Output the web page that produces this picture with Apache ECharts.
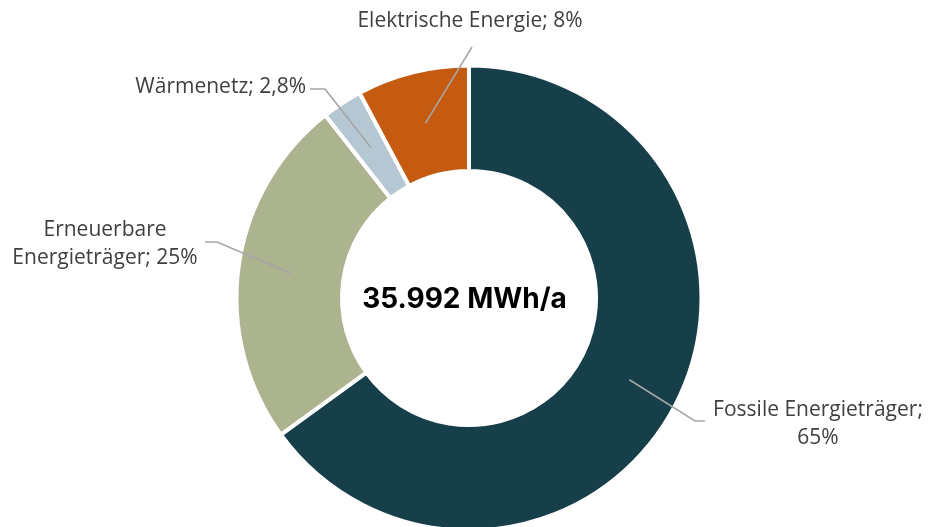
<!DOCTYPE html>
<html>
<head>
<meta charset="utf-8">
<script src="https://cdn.jsdelivr.net/npm/echarts@6/dist/echarts.min.js"></script>
<style>
  html, body { margin: 0; padding: 0; background: #ffffff; }
  #chart { width: 928px; height: 527px; }
</style>
</head>
<body>
<div id="chart"></div>
<script>
// ---- data ----
const categories = ['Fossile Energieträger', 'Erneuerbare Energieträger', 'Wärmenetz', 'Elektrische Energie'];
const shares = [65.0, 24.4, 2.8, 7.8];
const labelTexts = ['Fossile Energieträger;\n65%', 'Erneuerbare\nEnergieträger; 25%', 'Wärmenetz; 2,8%', 'Elektrische Energie; 8%'];
const totalText = '35.992 MWh/a';
const colors = ['#173F4A', '#ABB38F', '#B4C7D3', '#C55A11'];

// ---- layout ----
const center = [469, 298];
const outerR = 232.5, innerR = 127;
const anchorR = 180;
const labelSpots = [
  { x: 818, y: 424, align: 'center', elbow: [695, 421], end: [705, 421] },
  { x: 105, y: 244, align: 'center', elbow: [217, 242], end: [205, 242] },
  { x: 306, y: 87,  align: 'right',  elbow: [325, 89],  end: [310, 89] },
  { x: 470, y: 21,  align: 'center', elbow: [472, 47],  end: [472, 47] }
];

const chart = echarts.init(document.getElementById('chart'), null, { renderer: 'canvas' });

const option = {
  animation: false,
  backgroundColor: '#ffffff',
  graphic: [{
    type: 'text',
    x: 464.5,
    y: 300,
    style: {
      text: totalText,
      fill: '#000000',
      font: 'bold 28px Inter',
      align: 'center',
      verticalAlign: 'middle'
    },
    z: 100
  }],
  series: [{
    // the ring itself
    type: 'pie',
    z: 2,
    center: center,
    radius: [innerR, outerR],
    startAngle: 90,
    clockwise: true,
    emphasis: { disabled: true },
    itemStyle: { borderColor: '#ffffff', borderWidth: 4 },
    label: { show: false },
    labelLine: { show: false },
    data: categories.map(function (c, i) {
      return { name: c, value: shares[i], itemStyle: { color: colors[i] } };
    })
  }, {
    // same shares, invisible, only carries the labels and leader lines above the ring
    type: 'pie',
    z: 5,
    silent: true,
    center: center,
    radius: [0, anchorR],
    startAngle: 90,
    clockwise: true,
    avoidLabelOverlap: false,
    emphasis: { disabled: true },
    itemStyle: { color: 'rgba(0,0,0,0)', borderWidth: 0 },
    label: {
      show: true,
      position: 'outside',
      width: 400,
      overflow: 'none',
      formatter: function (p) { return labelTexts[p.dataIndex]; },
      fontFamily: 'Open Sans',
      fontSize: 21,
      lineHeight: 28,
      color: '#404040'
    },
    labelLine: {
      show: true,
      lineStyle: { color: '#A6A6A6', width: 1.6 }
    },
    labelLayout: function (p) {
      const s = labelSpots[p.dataIndex];
      const res = { x: s.x, y: s.y, align: s.align, verticalAlign: 'middle' };
      const pts = p.labelLinePoints;
      if (pts && pts[0]) {
        res.labelLinePoints = [pts[0], s.elbow, s.end];
      }
      return res;
    },
    data: categories.map(function (c, i) {
      return { name: c, value: shares[i] };
    })
  }]
};
chart.setOption(option);
</script>
</body>
</html>
